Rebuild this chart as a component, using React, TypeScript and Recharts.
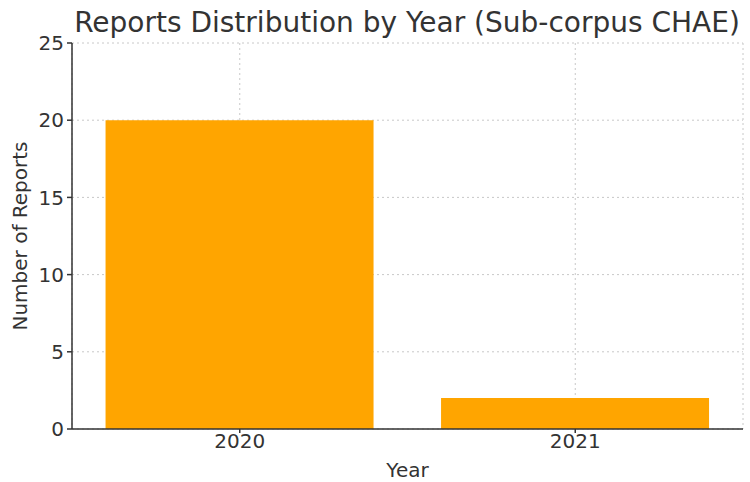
import { BarChart, Bar, XAxis, YAxis, CartesianGrid, Label } from "recharts";

const YEARS = ["2020", "2021"];
const REPORTS = [20, 2];
const Y_TICKS = [0, 5, 10, 15, 20, 25];

const data = YEARS.map((year, i) => ({ year, reports: REPORTS[i] }));

const FONT = "'DejaVu Sans', sans-serif";
const INK = "#333";

export default function App() {
  return (
    <div
      style={{
        position: "absolute",
        left: 0,
        top: 0,
        width: 750,
        height: 482,
        background: "#fff",
        fontFamily: FONT,
      }}
    >
      <BarChart
        width={750}
        height={482}
        data={data}
        margin={{ top: 43, right: 7, bottom: 0, left: 0 }}
        barCategoryGap="10%"
      >
        <CartesianGrid stroke="#c8c8c8" strokeDasharray="2 3" />
        <XAxis
          dataKey="year"
          height={53}
          stroke={INK}
          strokeWidth={1.5}
          tickSize={4}
          tickMargin={1}
          tick={{ fill: INK, fontSize: 20, fontFamily: FONT }}
        >
          <Label value="Year" position="insideBottom" offset={5} fill={INK} fontSize={20} fontFamily={FONT} />
        </XAxis>
        <YAxis
          width={72}
          domain={[0, 25]}
          ticks={Y_TICKS}
          stroke={INK}
          strokeWidth={1.5}
          tickSize={5}
          tickMargin={3}
          tick={{ fill: INK, fontSize: 20, fontFamily: FONT }}
        >
          <Label
            value="Number of Reports"
            angle={-90}
            position="insideLeft"
            offset={20}
            style={{ textAnchor: "middle" }}
            fill={INK}
            fontSize={20}
            fontFamily={FONT}
          />
        </YAxis>
        <Bar dataKey="reports" fill="#FFA500" isAnimationActive={false} />
      </BarChart>
      <svg
        width={750}
        height={50}
        style={{ position: "absolute", left: 0, top: 0, pointerEvents: "none" }}
      >
        <text x={407} y={32} textAnchor="middle" fontSize={28} fontFamily={FONT} fill={INK}>
          Reports Distribution by Year (Sub-corpus CHAE)
        </text>
      </svg>
    </div>
  );
}
